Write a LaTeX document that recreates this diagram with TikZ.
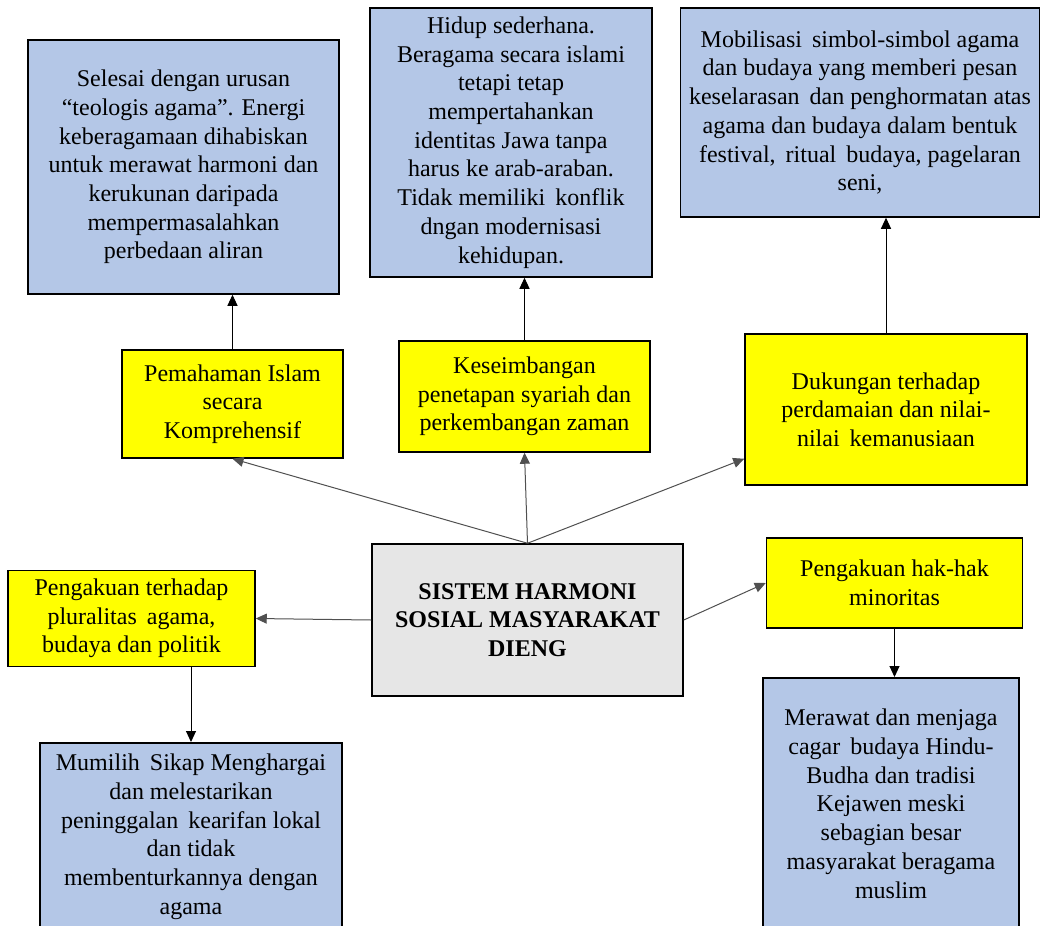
\documentclass[tikz,border=0pt]{standalone}
\usepackage{fontspec}
\setmainfont{Liberation Serif}
\usetikzlibrary{arrows.meta,calc}
\definecolor{boxblue}{HTML}{B4C7E7}
\definecolor{boxyellow}{HTML}{FFFF00}
\definecolor{boxgrey}{HTML}{E6E6E6}
\definecolor{fanline}{HTML}{505050}
\begin{document}
\begin{tikzpicture}[x=1pt,y=-1pt,
  every node/.style={font=\fontsize{24}{28.7}\selectfont, align=center, inner sep=0pt},
  bx/.style={draw=black, line width=1.5pt, rectangle},
  bluebox/.style={bx, fill=boxblue},
  yellowbox/.style={bx, fill=boxyellow},
  greybox/.style={bx, fill=boxgrey},
  fan/.style={draw=fanline, line width=1pt, -{Triangle[length=11pt,width=10pt]}},
  vert/.style={draw=black, line width=1pt, -{Triangle[length=11pt,width=10pt]}}]
\useasboundingbox (0,0) rectangle (1044,926);
\clip (0,0) rectangle (1044,926);
\fill[white] (0,0) rectangle (1044,926);

% top blue boxes
\node[bluebox, minimum width=311pt, minimum height=254pt] (b1) at (183.5,167)
  {Selesai dengan urusan\\``teologis agama''. Energi\\keberagamaan dihabiskan\\untuk merawat harmoni dan\\kerukunan daripada\\mempermasalahkan\\perbedaan aliran};
\node[bluebox, minimum width=282pt, minimum height=269pt] (b2) at (511,142.5)
  {Hidup sederhana.\\Beragama secara islami\\tetapi tetap\\mempertahankan\\identitas Jawa tanpa\\harus ke arab-araban.\\Tidak memiliki\hspace{4pt} konflik\\dngan modernisasi\\kehidupan.};
\node[bluebox, minimum width=359pt, minimum height=209pt] (b3) at (860,112.5)
  {Mobilisasi\hspace{4pt} simbol-simbol agama\\dan budaya yang memberi pesan\\keselarasan\hspace{4pt} dan penghormatan atas\\agama dan budaya dalam bentuk\\festival,\hspace{4pt} ritual\hspace{4pt} budaya, pagelaran\\seni,};

% yellow boxes
\node[yellowbox, minimum width=221pt, minimum height=108pt] (y1) at (232.5,404)
  {Pemahaman Islam\\secara\\Komprehensif};
\node[yellowbox, minimum width=251pt, minimum height=111pt] (y2) at (524.5,396.5)
  {Keseimbangan\\penetapan syariah dan\\perkembangan zaman};
\node[yellowbox, minimum width=282pt, minimum height=151pt] (y3) at (886,409.5)
  {Dukungan terhadap\\perdamaian dan nilai-\\nilai\hspace{4pt} kemanusiaan};

% centre
\node[greybox, minimum width=311pt, minimum height=152pt,
  font=\fontsize{24}{28.7}\selectfont\bfseries] (c) at (527.5,620)
  {SISTEM HARMONI\\SOSIAL MASYARAKAT\\DIENG};

\node[yellowbox, minimum width=247pt, minimum height=96pt] (y4) at (131.5,618.5)
  {Pengakuan terhadap\\pluralitas\hspace{4pt} agama,\\budaya dan politik};
\node[yellowbox, minimum width=256pt, minimum height=90pt] (y5) at (894.5,583)
  {Pengakuan hak-hak\\minoritas};

% bottom blue boxes (cut by page bottom)
\node[bluebox, minimum width=302pt, minimum height=230pt, anchor=north] (b4) at (191,742) {};
\node[anchor=north] (b4t) at (191,754)
  {Mumilih\hspace{4pt} Sikap Menghargai\\dan melestarikan\\peninggalan\hspace{4pt} kearifan lokal\\dan tidak\\membenturkannya dengan\\agama};
\node[bluebox, minimum width=256pt, minimum height=290pt, anchor=north] (b5) at (891,677) {};
\node[anchor=north] (b5t) at (891,709)
  {Merawat dan menjaga\\cagar\hspace{4pt} budaya Hindu-\\Budha dan tradisi\\Kejawen meski\\sebagian besar\\masyarakat beragama\\muslim};

% fan connectors from centre
\draw[fan] (c.north) -- (y1.south);
\draw[fan] (c.north) -- (y2.south);
\draw[fan] (c.north) -- ($(y3.south west)+(0,-27)$);
\draw[fan] (c.west) -- (y4.east);
\draw[fan] (c.east) -- (y5.west);

% vertical connectors
\draw[vert] (y1.north) -- (y1.north |- b1.south);
\draw[vert] (y2.north) -- (y2.north |- b2.south);
\draw[vert] (y3.north) -- (y3.north |- b3.south);
\draw[vert] (b4.north |- y4.south) -- (b4.north);
\draw[vert] (y5.south) -- (y5.south |- b5.north);
\end{tikzpicture}
\end{document}
